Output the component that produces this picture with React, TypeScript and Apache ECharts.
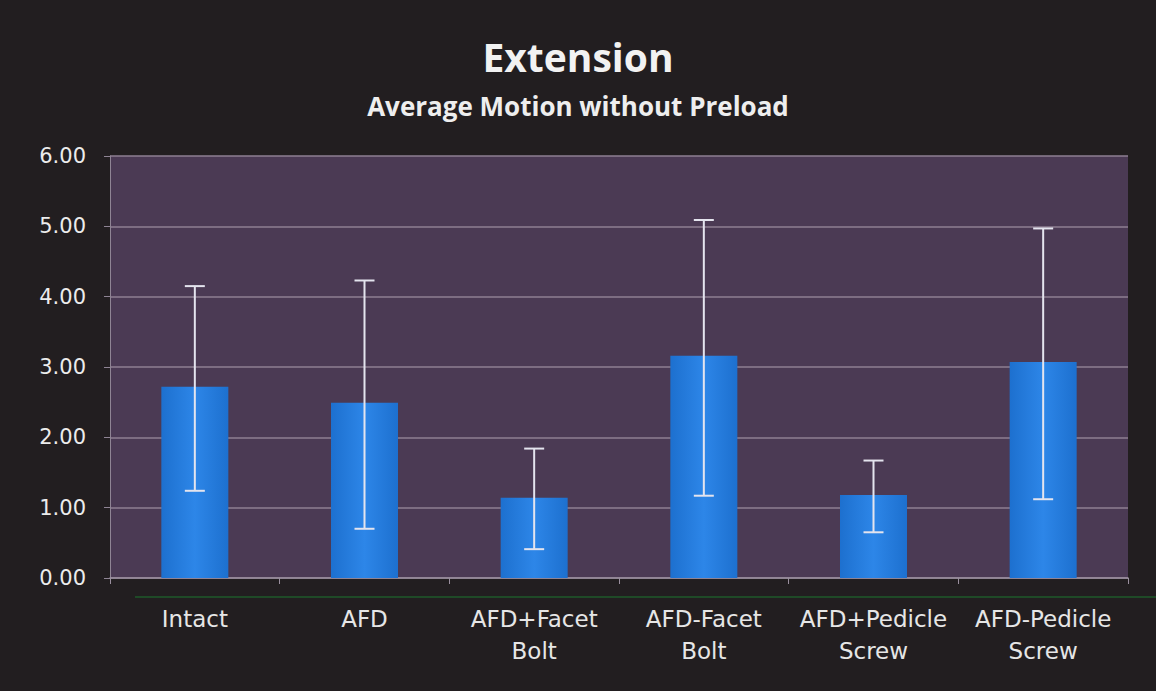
import React, { useEffect, useRef } from "react";
import * as echarts from "echarts";

const categories = ["Intact", "AFD", "AFD+Facet\nBolt", "AFD-Facet\nBolt", "AFD+Pedicle\nScrew", "AFD-Pedicle\nScrew"];
const means = [2.72, 2.49, 1.14, 3.16, 1.18, 3.07];
const errHigh = [4.15, 4.23, 1.84, 5.09, 1.67, 4.97];
const errLow = [1.24, 0.70, 0.41, 1.17, 0.65, 1.12];
const yTicks = [0, 1, 2, 3, 4, 5, 6];

export default function App() {
  const ref = useRef<HTMLDivElement>(null);
  useEffect(() => {
    if (!ref.current) return;
    const chart = echarts.init(ref.current, null, { renderer: "svg" });
    const errData = categories.map((_, i) => [i, errLow[i], errHigh[i]]);
    chart.setOption({
      animation: false,
      backgroundColor: "#221e20",
      title: [
        {
          text: "Extension",
          left: "center",
          top: 32,
          textStyle: { color: "#f2f2f2", fontSize: 39, fontWeight: "bold", fontFamily: "Open Sans" },
        },
        {
          text: "Average Motion without Preload",
          left: "center",
          top: 88,
          textStyle: { color: "#eeeeee", fontSize: 26, fontWeight: "bold", fontFamily: "Open Sans" },
        },
      ],
      grid: { left: 110, right: 28, top: 156, bottom: 113, show: true, backgroundColor: "#4b3a54", borderWidth: 0 },
      xAxis: {
        type: "category",
        data: categories,
        axisLine: { lineStyle: { color: "#9a8f9e", width: 1.5 } },
        axisTick: { show: true, length: 6, lineStyle: { color: "#9a8f9e" } },
        axisLabel: {
          color: "#e6e6e6",
          fontSize: 23,
          fontFamily: "DejaVu Sans",
          margin: 25,
          lineHeight: 32,
          interval: 0,
        },
      },
      yAxis: {
        type: "value",
        min: yTicks[0],
        max: yTicks[yTicks.length - 1],
        interval: 1,
        axisLine: { show: true, lineStyle: { color: "#8f8494", width: 1 } },
        axisTick: { show: true, length: 6, lineStyle: { color: "#8f8494" } },
        axisLabel: {
          color: "#ececec",
          fontSize: 21,
          fontFamily: "DejaVu Sans",
          margin: 24,
          formatter: (v: number) => v.toFixed(2),
        },
        splitLine: { lineStyle: { color: "#8e7f92", width: 1.5 } },
      },
      graphic: [
        {
          type: "line",
          shape: { x1: 135, y1: 597, x2: 1156, y2: 597 },
          style: { stroke: "#1f5a2a", lineWidth: 1.5 },
          silent: true,
        },
      ],
      series: [
        {
          type: "bar",
          data: means,
          barWidth: 67,
          itemStyle: {
            color: new echarts.graphic.LinearGradient(0, 0, 1, 0, [
              { offset: 0, color: "#1d70cf" },
              { offset: 0.5, color: "#2d86e8" },
              { offset: 1, color: "#1d70cf" },
            ]),
          },
        },
        {
          type: "custom",
          data: errData,
          z: 10,
          renderItem: (params: any, api: any) => {
            const x = api.value(0);
            const lo = api.coord([x, api.value(1)]);
            const hi = api.coord([x, api.value(2)]);
            const half = 10;
            const style = { stroke: "#e4e4ee", lineWidth: 2 };
            return {
              type: "group",
              children: [
                { type: "line", shape: { x1: hi[0], y1: hi[1], x2: lo[0], y2: lo[1] }, style },
                { type: "line", shape: { x1: hi[0] - half, y1: hi[1], x2: hi[0] + half, y2: hi[1] }, style },
                { type: "line", shape: { x1: lo[0] - half, y1: lo[1], x2: lo[0] + half, y2: lo[1] }, style },
              ],
            };
          },
        },
      ],
    });
    return () => chart.dispose();
  }, []);
  return <div ref={ref} style={{ position: "fixed", left: 0, top: 0, width: 1156, height: 691 }} />;
}
